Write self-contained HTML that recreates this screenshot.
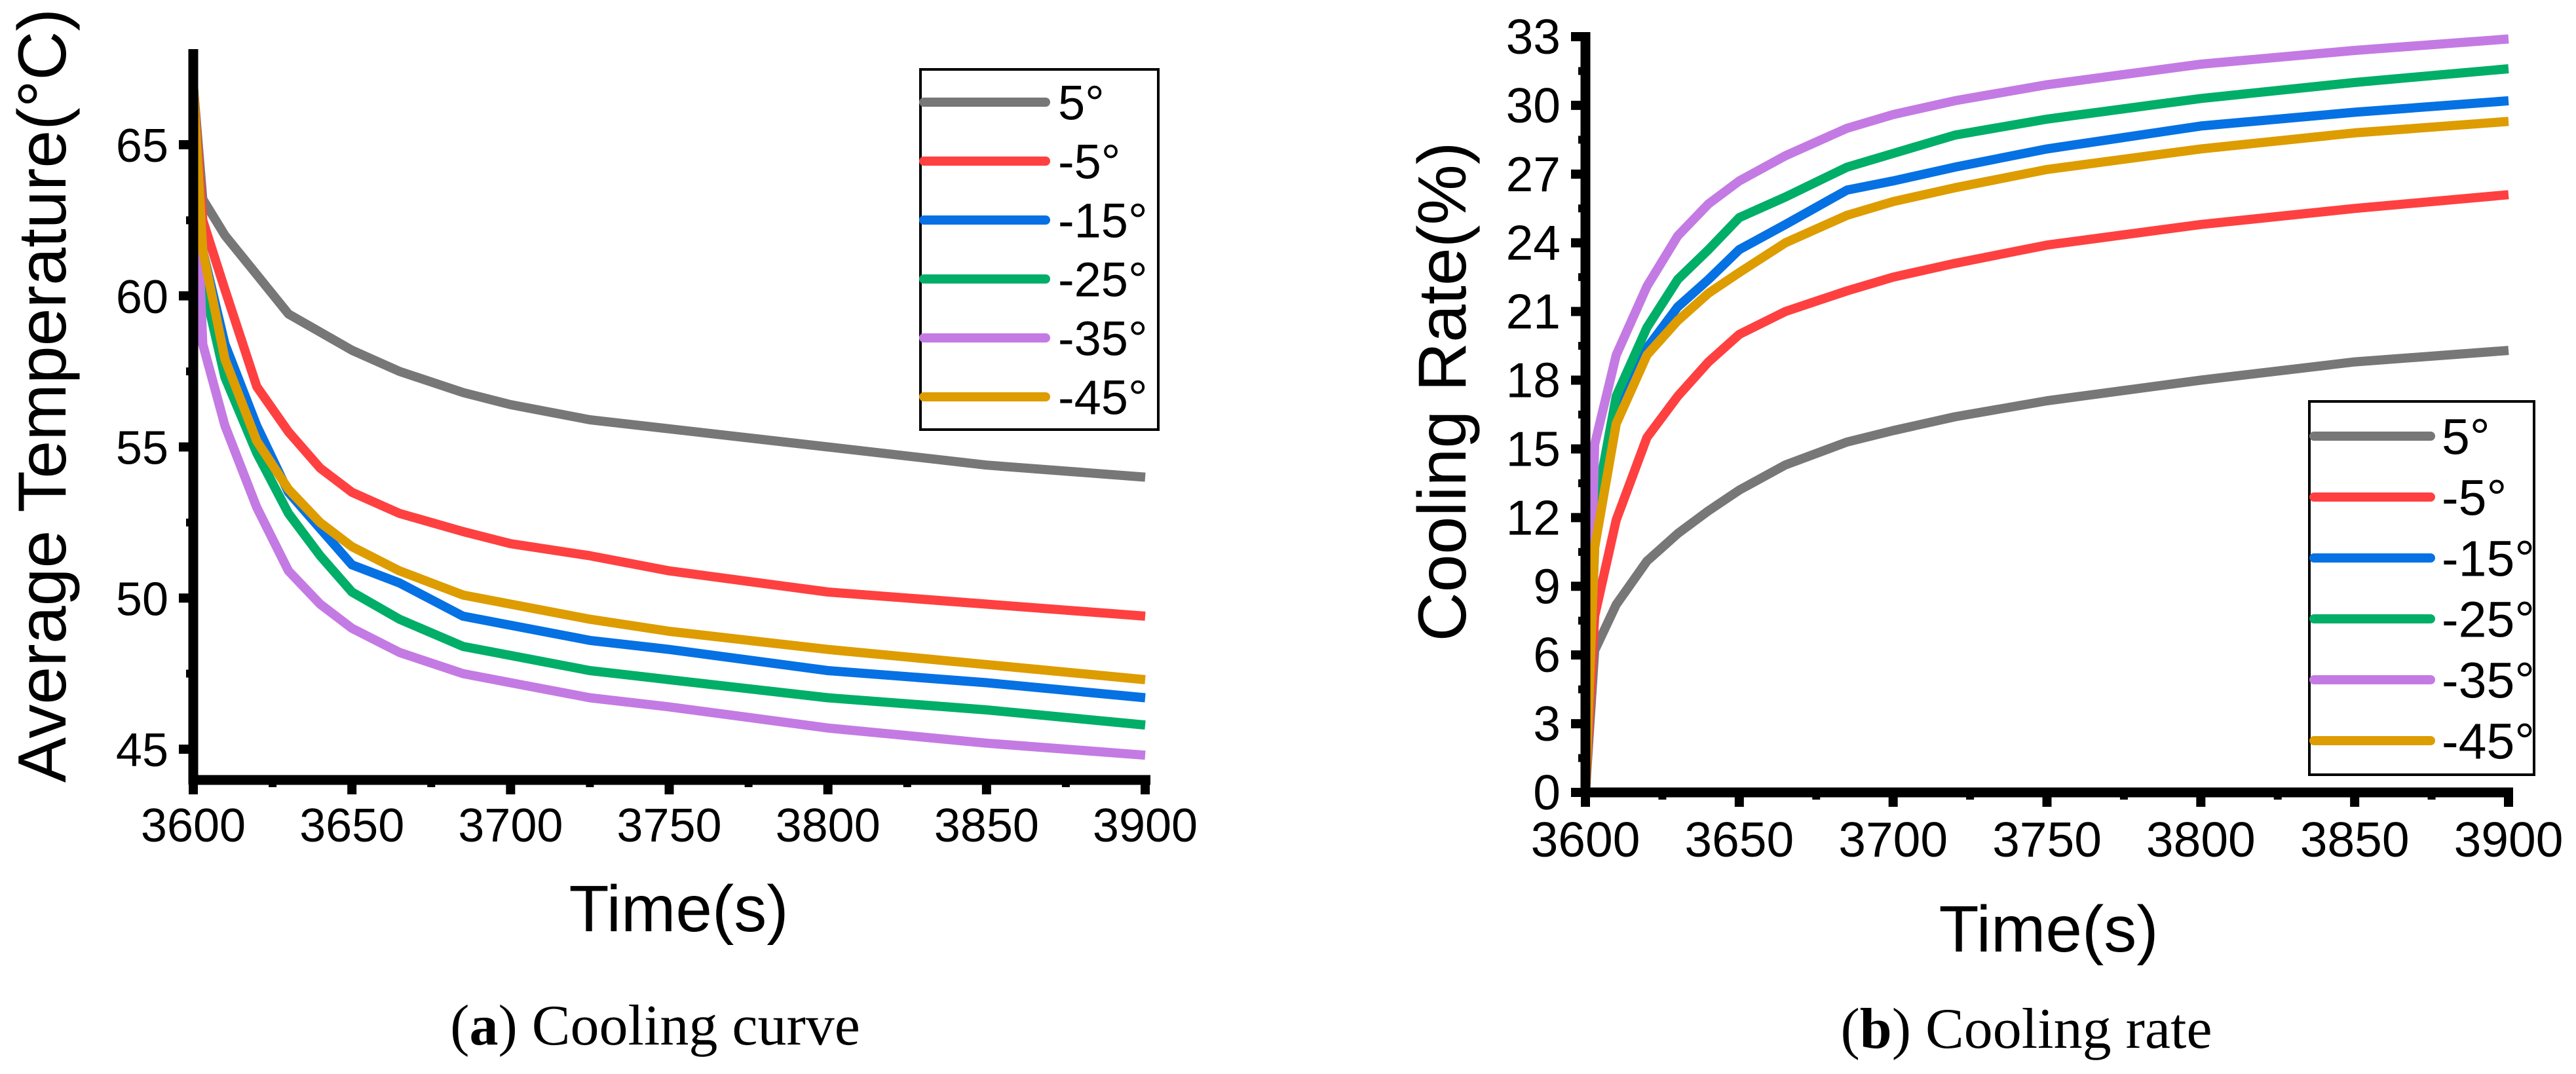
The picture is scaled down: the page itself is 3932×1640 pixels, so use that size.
<!DOCTYPE html>
<html><head><meta charset="utf-8"><style>
html,body{margin:0;padding:0;background:#fff;}
svg{display:block;font-family:"Liberation Sans",Arial,sans-serif;}
</style></head><body>
<svg id="fig" width="3932" height="1640" viewBox="0 0 3932 1640" xmlns="http://www.w3.org/2000/svg">
<g id="chartA"></g>
<g id="chartB"></g>
<text x="1000" y="1595" font-family="'Liberation Serif',serif" font-size="88" text-anchor="middle">(<tspan font-weight="bold">a</tspan>) Cooling curve</text>
<text x="3093" y="1600" font-family="'Liberation Serif',serif" font-size="88" text-anchor="middle">(<tspan font-weight="bold">b</tspan>) Cooling rate</text>
</svg>
<script>
const seriesNames = ["5°","-5°","-15°","-25°","-35°","-45°"];
const seriesColors = ["#777777","#ff4040","#0571e3","#00ae68","#c47ae3","#dd9c00"];
const xTicks = [3600,3650,3700,3750,3800,3850,3900];
const tempTicks = [45,50,55,60,65];
const rateTicks = [0,3,6,9,12,15,18,21,24,27,30,33];
const tempTimes = [3600,3603,3610,3620,3630,3640,3650,3665,3685,3700,3725,3750,3800,3850,3900];
const temp5  = [67,63.2,62.0,60.7,59.4,58.8,58.2,57.5,56.8,56.4,55.9,55.6,55.0,54.4,54.0];
const tempM5 = [67,62.5,60.2,57.0,55.5,54.3,53.5,52.8,52.2,51.8,51.4,50.9,50.2,49.8,49.4];
const tempM15= [67,61.5,58.4,55.7,53.5,52.3,51.1,50.5,49.4,49.1,48.6,48.3,47.6,47.2,46.7];
const tempM25= [67,60.5,57.3,54.8,52.8,51.4,50.2,49.3,48.4,48.1,47.6,47.3,46.7,46.3,45.8];
const tempM35= [66,58.4,55.7,53.0,50.9,49.8,49.0,48.2,47.5,47.2,46.7,46.4,45.7,45.2,44.8];
const tempM45= [67,61.5,57.9,55.2,53.6,52.5,51.7,50.9,50.1,49.8,49.3,48.9,48.3,47.8,47.3];
const rateTimes = [3600,3603,3610,3620,3630,3640,3650,3665,3685,3700,3720,3750,3800,3850,3900];
const rate5  = [0,6.2,8.2,10.1,11.3,12.3,13.2,14.3,15.3,15.8,16.4,17.1,18.0,18.8,19.3];
const rateM5 = [0,7.7,11.9,15.5,17.3,18.8,20.0,21.0,21.9,22.5,23.1,23.9,24.8,25.5,26.1];
const rateM15= [0,10.7,17.0,19.4,21.2,22.4,23.7,24.8,26.3,26.7,27.3,28.1,29.1,29.7,30.2];
const rateM25= [0,12.2,17.3,20.3,22.4,23.7,25.1,26.0,27.3,27.9,28.7,29.4,30.3,31.0,31.6];
const rateM35= [0,15.2,19.1,22.1,24.3,25.7,26.7,27.8,29.0,29.6,30.2,30.9,31.8,32.4,32.9];
const rateM45= [0,10.7,16.1,19.1,20.6,21.8,22.7,24.0,25.2,25.8,26.4,27.2,28.1,28.8,29.3];

const NS="http://www.w3.org/2000/svg";
function mk(tag,attrs,parent){const e=document.createElementNS(NS,tag);for(const k in attrs)e.setAttribute(k,attrs[k]);parent.appendChild(e);return e;}

function drawChart(g,cfg){
  const sx=v=>cfg.x0+(v-3600)/300*(cfg.x1-cfg.x0);
  const sy=v=>cfg.yBase+(v-cfg.v0)*(cfg.yTop-cfg.yBase)/(cfg.v1-cfg.v0);
  cfg.series.forEach((s,i)=>{
    const d=cfg.times.map((t,j)=>(j?'L':'M')+sx(t).toFixed(1)+','+sy(s[j]).toFixed(1)).join(' ');
    const p=mk('path',{d:d,fill:'none',stroke:seriesColors[i],'stroke-width':14,'stroke-linejoin':'round'},g);
    
    
  });
  const ax=mk('line',{x1:cfg.x0,y1:cfg.axTop,x2:cfg.x0,y2:cfg.axY+7,stroke:'#000','stroke-width':15},g);
  
  
  const bx=mk('line',{x1:cfg.x0-7,y1:cfg.axY,x2:cfg.xEnd,y2:cfg.axY,stroke:'#000','stroke-width':15},g);
  
  
  xTicks.forEach((t,i)=>{
    const x=sx(t);
    mk('line',{x1:x,y1:cfg.axY,x2:x,y2:cfg.axY+22,stroke:'#000','stroke-width':14},g);
    if(i<xTicks.length-1){const xm=sx(t+25);mk('line',{x1:xm,y1:cfg.axY,x2:xm,y2:cfg.axY+11,stroke:'#000','stroke-width':12},g);}
    const tx=mk('text',{x:x,y:cfg.xLabY,'font-size':cfg.fs,'text-anchor':'middle'},g);
    tx.textContent=t;
    
    
  });
  cfg.yTicks.forEach((v,i)=>{
    const y=sy(v);
    mk('line',{x1:cfg.x0,y1:y,x2:cfg.x0-22,y2:y,stroke:'#000','stroke-width':14},g);
    const ty=mk('text',{x:cfg.yLabX,y:y+26,'font-size':cfg.fs,'text-anchor':'end'},g);
    ty.textContent=v;
    
    
  });
  for(let v=cfg.yTicks[0]-cfg.step/2;v<cfg.v1;v+=cfg.step){
    if(v<cfg.v0)continue;const y=sy(v);
    mk('line',{x1:cfg.x0,y1:y,x2:cfg.x0-11,y2:y,stroke:'#000','stroke-width':12},g);
  }
  const xt=mk('text',{x:cfg.xtX,y:cfg.xtY,'font-size':100,'text-anchor':'middle'},g);
  xt.textContent='Time(s)';
  
  
  const yt=mk('text',{x:0,y:0,'font-size':cfg.ytFs,'text-anchor':'middle',transform:`translate(${cfg.ytX},${cfg.ytY}) rotate(-90)`},g);
  yt.textContent=cfg.yTitle;
  
  
  const L=cfg.leg;
  const lg=mk('g',{},g);
  
  
  mk('rect',{x:L.x,y:L.y,width:L.w,height:L.h,fill:'#fff',stroke:'#000','stroke-width':4},lg);
  seriesNames.forEach((n,i)=>{
    const y=L.r0+i*L.dy;
    const ln=mk('line',{x1:L.lx0,y1:y,x2:L.lx1,y2:y,stroke:seriesColors[i],'stroke-width':14,'stroke-linecap':'round'},lg);
    
    
    const t=mk('text',{x:L.tx,y:y+L.fs*0.36,'font-size':L.fs},lg);
    t.textContent=n;
    
    
  });
}

drawChart(document.getElementById('chartA'),{
  x0:295,x1:1748,xEnd:1756,axTop:75,axY:1191,v0:45,v1:65,yBase:1144,yTop:221,
  yTicks:tempTicks,step:5,times:tempTimes,series:[temp5,tempM5,tempM15,tempM25,tempM35,tempM45],
  fs:72,xLabY:1285,yLabX:257,xtX:1036,xtY:1422,ytX:100,ytY:604,ytFs:104,yTitle:'Average Temperature(°C)',
  leg:{x:1405,y:106,w:363,h:550,r0:156,dy:90,lx0:1410,lx1:1596,tx:1615,fs:74}
});
drawChart(document.getElementById('chartB'),{
  x0:2420,x1:3829,xEnd:3836,axTop:49,axY:1210,v0:0,v1:33,yBase:1210,yTop:56,
  yTicks:rateTicks,step:3,times:rateTimes,series:[rate5,rateM5,rateM15,rateM25,rateM35,rateM45],
  fs:75,xLabY:1308,yLabX:2382,xtX:3127,xtY:1453,ytX:2237,ytY:598,ytFs:104,yTitle:'Cooling Rate(%)',
  leg:{x:3525,y:613,w:343,h:570,r0:666,dy:93,lx0:3532,lx1:3710,tx:3727,fs:77}
});
</script>
</body></html>
